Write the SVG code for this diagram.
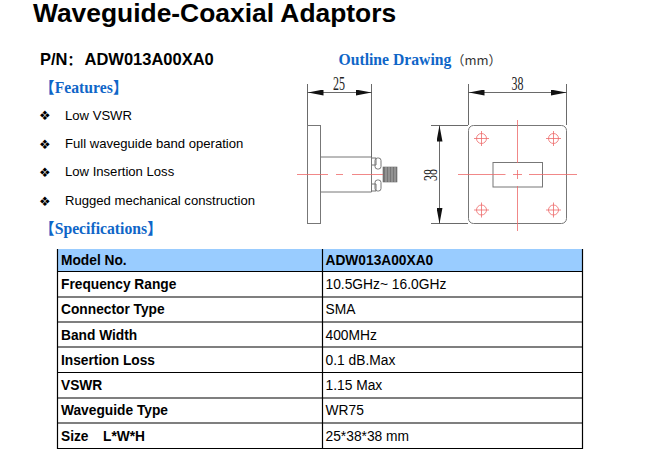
<svg xmlns="http://www.w3.org/2000/svg" width="645" height="452" viewBox="0 0 645 452">
<style>
text{font-family:"Liberation Sans",Arial,sans-serif;fill:#000}
.h{font-family:"Liberation Serif","Noto Sans CJK SC",serif;font-weight:bold;fill:#0f66c8;font-size:15.7px}
.f{font-size:13.1px}
.bl{font-size:13px;font-family:"DejaVu Sans",sans-serif}
.b{font-weight:bold;font-size:13.75px}
.v{font-size:13.8px}
.d{font-family:"Liberation Serif",serif;font-size:15px;fill:#222}
.l{fill:none;stroke:#777;stroke-width:1}
.dm{fill:none;stroke:#444;stroke-width:.8}
.r{fill:none;stroke:#ee6a6a;stroke-width:.8}
.g{stroke:#000;stroke-width:1.2;fill:none}
</style>
<defs>
<marker id="ah" markerUnits="userSpaceOnUse" markerWidth="16" markerHeight="6" refX="16" refY="3" orient="auto-start-reverse"><path d="M0 0L16 3L0 6Z" fill="#111"/></marker>
</defs>
<rect width="645" height="452" fill="#fff"/>
<text x="33" y="22" font-size="26.4" font-weight="bold">Waveguide-Coaxial Adaptors</text>
<text x="40" y="64.500" font-size="16.500" font-weight="bold">P/N<tspan font-family="Noto Sans CJK SC" font-size="14">：</tspan><tspan x="84.500">ADW013A00XA0</tspan></text>
<text x="338.500" y="65" class="h">Outline Drawing<tspan font-family="Noto Sans CJK SC" font-weight="normal" font-size="13" fill="#333">（mm）</tspan></text>
<text x="39" y="93" class="h">【Features】</text>
<g id="features">
<text x="39" y="120" class="bl">❖</text><text x="65" y="120" class="f">Low VSWR</text>
<text x="39" y="148.500" class="bl">❖</text><text x="65" y="148" class="f">Full waveguide band operation</text>
<text x="39" y="176.500" class="bl">❖</text><text x="65" y="176" class="f">Low Insertion Loss</text>
<text x="39" y="205.500" class="bl">❖</text><text x="65" y="205" class="f">Rugged mechanical construction</text>
</g>
<text x="39" y="234" class="h">【Specifications】</text>

<g id="side-view">
<rect class="l" x="307.500" y="125.500" width="13" height="98"/>
<path class="l" d="M320.500 157H371.500M320.500 192H371.500" stroke-width="1.400" stroke="#999"/>
<path class="l" d="M371.500 157V192M371.500 158H376V165H371.500M371.500 184H376V191H371.500"/>
<rect class="l" x="375" y="158" width="6" height="11" rx="2.500"/>
<rect class="l" x="375" y="180" width="6" height="11" rx="2.500"/>
<rect x="383" y="167" width="14" height="15" fill="#777" stroke="#666" stroke-width=".6"/>
<path d="M386 167V182M389 167V182M392 167V182M395 167V182" stroke="#bbb" stroke-width=".8"/>
<path class="r" d="M297 174.500H328M336 174.500H343M352 174.500H383"/>
<path class="dm" d="M307.500 84V125M371.500 84V157"/>
<line class="dm" x1="307.500" y1="92.500" x2="371.500" y2="92.500" marker-start="url(#ah)" marker-end="url(#ah)"/>
<text class="d" transform="translate(333 90) scale(.8 1.3)">25</text>
</g>

<g id="front-view">
<rect class="l" x="468.500" y="125.500" width="98" height="98" rx="5"/>
<rect class="l" x="493" y="162.500" width="49.500" height="24.500"/>
<path class="r" d="M517.500 120V163M517.500 186V231M458 174.500H505.500M529 174.500H577M513 174.500H522M517.500 170V179"/>
<g class="r"><circle cx="481.500" cy="138.500" r="5"/><circle cx="553.500" cy="138.500" r="5"/><circle cx="481.500" cy="210" r="5"/><circle cx="553.500" cy="210" r="5"/>
<path d="M474 138.500H489M481.500 131V146M546 138.500H561M553.500 131V146M474 210H489M481.500 202.500V217.500M546 210H561M553.500 202.500V217.500"/></g>
<path class="dm" d="M468.500 84V125M566.500 84V125M431 125.500H468M431 223.500H468"/>
<line class="dm" x1="468.500" y1="92.500" x2="566.500" y2="92.500" marker-start="url(#ah)" marker-end="url(#ah)"/>
<line class="dm" x1="439.500" y1="125.500" x2="439.500" y2="223.500" marker-start="url(#ah)" marker-end="url(#ah)"/>
<text class="d" transform="translate(511.500 90) scale(.8 1.3)">38</text>
<text class="d" transform="translate(437 181) rotate(-90) scale(.8 1.3)">38</text>
</g>

<g id="spec-table">
<rect x="58" y="249" width="524" height="22.500" fill="#99ccff"/>
<path class="g" d="M57.500 249V449M322.500 249V449M582.500 249V449M57 271.500H583M57 297H583M57 322H583M57 347H583M57 372.500H583M57 398H583M57 423H583M57 448.500H583"/>
<text class="b" x="61" y="265">Model No.</text>
<text class="b" x="325.500" y="265">ADW013A00XA0</text>
<text class="b" x="61" y="289">Frequency Range</text>
<text class="b" x="61" y="314">Connector Type</text>
<text class="b" x="61" y="340">Band Width</text>
<text class="b" x="61" y="365">Insertion Loss</text>
<text class="b" x="61" y="390">VSWR</text>
<text class="b" x="61" y="415">Waveguide Type</text>
<text class="b" x="61" y="441">Size<tspan x="103">L*W*H</tspan></text>
<text class="v" x="325.500" y="289">10.5GHz~ 16.0GHz</text>
<text class="v" x="325.500" y="314">SMA</text>
<text class="v" x="325.500" y="340">400MHz</text>
<text class="v" x="325.500" y="365">0.1 dB.Max</text>
<text class="v" x="325.500" y="390">1.15 Max</text>
<text class="v" x="325.500" y="415">WR75</text>
<text class="v" x="325.500" y="441">25*38*38 mm</text>
</g>
</svg>
